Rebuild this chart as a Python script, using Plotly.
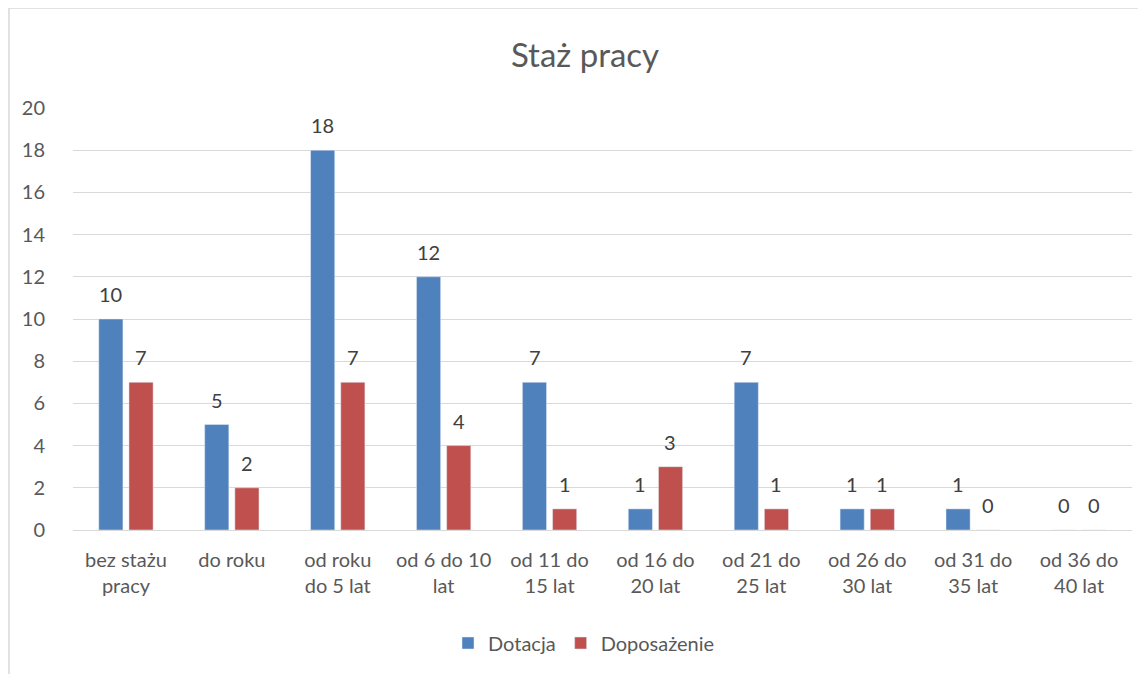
import plotly.graph_objects as go

categories = ["bez stażu<br>pracy", "do roku", "od roku<br>do 5 lat", "od 6 do 10<br>lat",
              "od 11 do<br>15 lat", "od 16 do<br>20 lat", "od 21 do<br>25 lat", "od 26 do<br>30 lat",
              "od 31 do<br>35 lat", "od 36 do<br>40 lat"]
dotacja = [10, 5, 18, 12, 7, 1, 7, 1, 1, 0]
doposazenie = [7, 2, 7, 4, 1, 3, 1, 1, 0, 0]

FONT = "Lato, 'Open Sans', sans-serif"
W, H = 1138, 666
L, R, T, B = 65, 14, 100, 144
PW, PH = W - L - R, H - T - B

fig = go.Figure()
fig.add_trace(go.Bar(name="Dotacja", x=categories, y=dotacja, marker_color="#4F81BD"))
fig.add_trace(go.Bar(name="Doposażenie", x=categories, y=doposazenie, marker_color="#C0504D"))

annotations = []
for series, shift in ((dotacja, -15), (doposazenie, 15)):
    for c, v in zip(categories, series):
        annotations.append(dict(x=c, y=v, xref="x", yref="y", text=str(v), showarrow=False,
                                xshift=shift, yshift=25, yanchor="middle",
                                font=dict(size=20, color="#404040", family=FONT)))

fig.update_layout(
    width=W, height=H,
    paper_bgcolor="white", plot_bgcolor="white",
    margin=dict(l=L, r=R, t=T, b=B, autoexpand=False),
    title=dict(text="Staż pracy", x=(585 - 8) / W, xanchor="center", y=1 - 47 / H, yanchor="middle",
               font=dict(size=33, color="#595959", family=FONT)),
    font=dict(family=FONT, color="#595959", size=20),
    barmode="group", bargap=0.43, bargroupgap=0.2,
    legend=dict(orientation="h", x=(584 - 8 - L) / PW, xanchor="center", y=-(635 - 522) / PH,
                yanchor="middle", font=dict(size=20, color="#595959", family=FONT), itemwidth=30),
    showlegend=True,
    xaxis=dict(showgrid=False, showline=False, ticks="", ticklabelstandoff=16,
               tickfont=dict(size=20, color="#595959", family=FONT)),
    yaxis=dict(range=[0, 20], dtick=2, showgrid=True, gridcolor="#d9d9d9", gridwidth=1,
               zeroline=True, zerolinecolor="#d9d9d9", zerolinewidth=1, showline=False,
               ticks="", ticklabelstandoff=27,
               tickfont=dict(size=20, color="#595959", family=FONT)),
    annotations=annotations,
    shapes=[dict(type="rect", xref="paper", yref="paper",
                 x0=(1 - L) / PW, x1=(1200 - L) / PW,
                 y0=-(H + 20 - (H - B)) / PH, y1=(H - B - 0) / PH,
                 line=dict(color="#d9d9d9", width=1.5), fillcolor="rgba(0,0,0,0)", layer="below")],
)

fig.write_html("out.html")
